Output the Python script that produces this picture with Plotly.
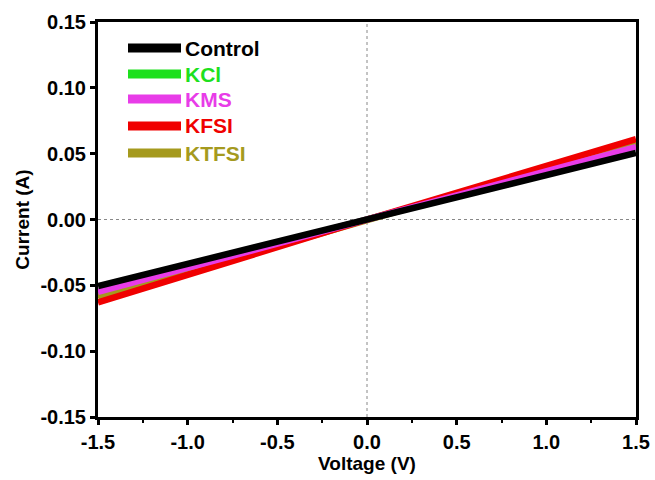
import plotly.graph_objects as go

voltage = [-1.5, 0.0, 1.5]
names = ["Control", "KCl", "KMS", "KFSI", "KTFSI"]
colors = ["#000000", "#1EE01E", "#E83CE8", "#F00000", "#A59A1E"]
current_control = [-0.0505, 0.0, 0.0505]
current_kcl = [-0.0555, 0.0, 0.0555]
current_kms = [-0.0550, 0.0, 0.0550]
current_kfsi = [-0.0630, 0.0, 0.0610]
current_ktfsi = [-0.0590, 0.0, 0.0580]
currents = [current_control, current_kcl, current_kms, current_kfsi, current_ktfsi]

x_ticks = [-1.5, -1.0, -0.5, 0.0, 0.5, 1.0, 1.5]
y_ticks = [-0.15, -0.10, -0.05, 0.00, 0.05, 0.10, 0.15]

FONT = "Liberation Sans, Arial, sans-serif"

fig = go.Figure()
draw_order = [1, 4, 3, 2, 0]  # KCl, KTFSI, KFSI, KMS, Control
for i in draw_order:
    fig.add_trace(go.Scatter(x=voltage, y=currents[i], mode="lines", name=names[i],
                             line=dict(color=colors[i], width=6.5), showlegend=False))

# zero reference lines
fig.add_shape(type="line", xref="x", yref="paper", x0=0, x1=0, y0=0, y1=1,
              line=dict(color="#888888", width=1, dash="dot"), layer="below")
fig.add_shape(type="line", xref="paper", yref="y", x0=0, x1=1, y0=0, y1=0,
              line=dict(color="#888888", width=1, dash="dot"), layer="below")

# manual legend
L, R, T, B = 98, 636, 22, 417
def px(xp):
    return (xp - L) / (R - L)
def py(yp):
    return (B - yp) / (B - T)
leg_y = [48, 74, 99, 126, 153]
for lab, c, yy in zip(names, colors, leg_y):
    fig.add_shape(type="line", xref="paper", yref="paper",
                  x0=px(128), x1=px(181), y0=py(yy), y1=py(yy),
                  line=dict(color=c, width=9))
    fig.add_annotation(xref="paper", yref="paper", x=px(183), y=py(yy),
                       text="<b>%s</b>" % lab, showarrow=False, xanchor="left",
                       yanchor="middle", font=dict(color=c, size=21, family=FONT))

axis_common = dict(showline=True, linewidth=3, linecolor="black", mirror=True,
                   ticks="outside", ticklen=5, tickwidth=2.5, tickcolor="black",
                   showgrid=False, zeroline=False, automargin=False,
                   tickfont=dict(size=20, color="black", family=FONT))

fig.update_layout(
    width=655, height=480,
    margin=dict(l=98, r=19, t=22, b=63),
    plot_bgcolor="white", paper_bgcolor="white",
    font=dict(family=FONT, color="black"),
    xaxis=dict(range=[-1.5, 1.5], tickvals=x_ticks,
               ticktext=["<b>%.1f</b>" % v for v in x_ticks],
               title=dict(text="<b>Voltage (V)</b>", font=dict(size=19), standoff=2),
               minor=dict(ticks="outside", ticklen=3, tickwidth=2, tickcolor="black",
                          tickvals=[-1.25, -0.75, -0.25, 0.25, 0.75, 1.25]),
               **axis_common),
    yaxis=dict(range=[-0.15, 0.15], tickvals=y_ticks,
               ticktext=["<b>%.2f</b>" % v for v in y_ticks],
               title=dict(text="<b>Current (A)</b>", font=dict(size=19), standoff=6),
               **axis_common),
)

fig.write_html("out.html")
